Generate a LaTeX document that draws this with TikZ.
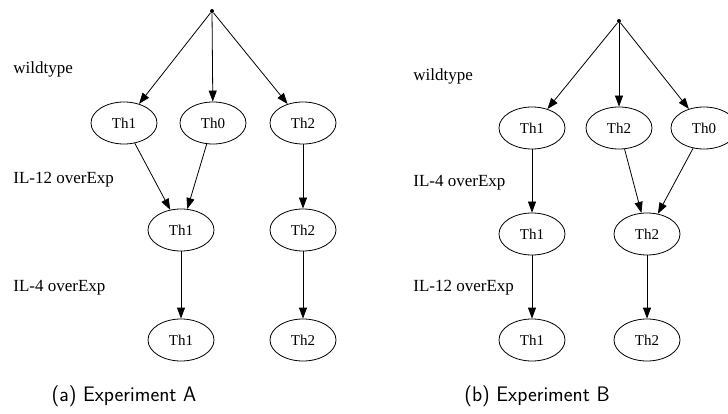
\documentclass[tikz,border=0pt]{standalone}
\usepackage{fontspec}
\setmainfont{Liberation Serif}
\usetikzlibrary{arrows.meta, shapes.geometric}
\begin{document}
\begin{tikzpicture}[x=1pt, y=-1pt, line width=0.8pt,
        cell/.style={draw, ellipse, minimum width=66pt, minimum height=42pt, inner sep=0pt, font=\fontsize{15}{18}\selectfont},
        root/.style={circle, fill, inner sep=0pt, minimum size=4pt},
        stage/.style={anchor=west, inner sep=0pt, font=\fontsize{17}{20}\selectfont},
        caption/.style={font=\fontsize{21}{25}\selectfont\sffamily},
        edge/.style={-{Triangle[length=11pt,width=8pt]}}]
        \useasboundingbox (0,0) rectangle (728,414);

        % Experiment A: define the nodes
        \node[root] (aroot) at (212,11) {};
        \node[stage] (awild) at (13,69) {wildtype};
        \node[stage] (ail12) at (13,180) {IL-12 overExp};
        \node[stage] (ail4) at (13,288) {IL-4 overExp};

        \node[cell] (ath1) at (124,123) {Th1};
        \node[cell] (ath0) at (213,123) {Th0};
        \node[cell] (ath2) at (303,123) {Th2};

        \node[cell] (amidth1) at (181,230) {Th1};
        \node[cell] (amidth2) at (303,230) {Th2};

        \node[cell] (aendth1) at (181,340) {Th1};
        \node[cell] (aendth2) at (303,340) {Th2};

        \node[caption] (acap) at (124,396) {(a) Experiment A};

        % Experiment A: draw the edges
        \draw[edge] (aroot) -- (ath1);
        \draw[edge] (aroot) -- (ath0);
        \draw[edge] (aroot) -- (ath2);
        \draw[edge] (ath1) -- (amidth1);
        \draw[edge] (ath0) -- (amidth1);
        \draw[edge] (ath2) -- (amidth2);
        \draw[edge] (amidth1) -- (aendth1);
        \draw[edge] (amidth2) -- (aendth2);

        % Experiment B: define the nodes
        \node[root] (broot) at (619,21) {};
        \node[stage] (bwild) at (413,76) {wildtype};
        \node[stage] (bil4) at (413,183) {IL-4 overExp};
        \node[stage] (bil12) at (413,288) {IL-12 overExp};

        \node[cell] (bth1) at (532,128) {Th1};
        \node[cell] (bth2) at (619,128) {Th2};
        \node[cell] (bth0) at (704,128) {Th0};

        \node[cell] (bmidth1) at (532,234) {Th1};
        \node[cell] (bmidth2) at (647,234) {Th2};

        \node[cell] (bendth1) at (532,340) {Th1};
        \node[cell] (bendth2) at (647,340) {Th2};

        \node[caption] (bcap) at (537,396) {(b) Experiment B};

        % Experiment B: draw the edges
        \draw[edge] (broot) -- (bth1);
        \draw[edge] (broot) -- (bth2);
        \draw[edge] (broot) -- (bth0);
        \draw[edge] (bth1) -- (bmidth1);
        \draw[edge] (bth2) -- (bmidth2);
        \draw[edge] (bth0) -- (bmidth2);
        \draw[edge] (bmidth1) -- (bendth1);
        \draw[edge] (bmidth2) -- (bendth2);
    \end{tikzpicture}
\end{document}
